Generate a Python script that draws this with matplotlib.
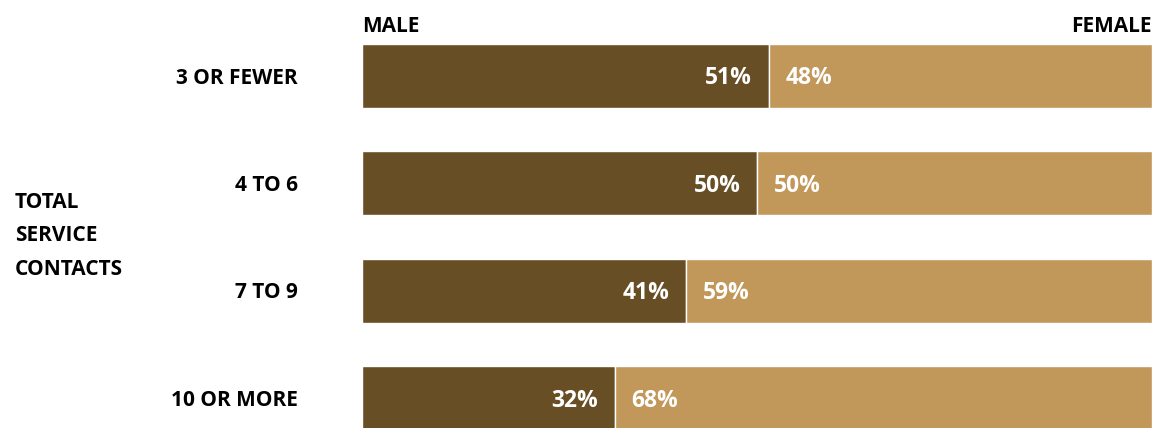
import matplotlib
matplotlib.use("Agg")
import matplotlib.pyplot as plt
import numpy as np

categories = ["3 OR FEWER", "4 TO 6", "7 TO 9", "10 OR MORE"]
male = [51, 50, 41, 32]
female = [48, 50, 59, 68]

MALE_COLOR = "#684e25"
FEMALE_COLOR = "#c2975a"

plt.rcParams["font.family"] = ["Open Sans", "DejaVu Sans"]

W, H = 1157, 428
fig = plt.figure(figsize=(W / 100, H / 100), dpi=100)
ax = fig.add_axes([362 / W, 0, (1152 - 362) / W, 1])

# each row is drawn as a 100% stacked bar
male_arr = np.array(male, dtype=float)
female_arr = np.array(female, dtype=float)
total = male_arr + female_arr
male_share = male_arr / total * 100
female_share = female_arr / total * 100

y = np.arange(len(categories))
height = 64 / 107.5
ax.barh(y, male_share, height=height, color=MALE_COLOR, edgecolor="white", linewidth=1.0)
ax.barh(y, female_share, left=male_share, height=height, color=FEMALE_COLOR,
        edgecolor="white", linewidth=1.0)

ax.set_xlim(0, 100)
ax.set_ylim((H - 75.5) / 107.5, -75.5 / 107.5)

for i in range(len(categories)):
    ax.annotate(f"{male[i]}%", (male_share[i], y[i]), xytext=(-12, -2), textcoords="offset points",
                ha="right", va="center", color="white", fontsize=16.5, fontweight="bold")
    ax.annotate(f"{female[i]}%", (male_share[i], y[i]), xytext=(12, -2), textcoords="offset points",
                ha="left", va="center", color="white", fontsize=16.5, fontweight="bold")

ax.set_yticks(y)
ax.set_yticklabels(categories, fontsize=15, fontweight="bold")
ax.tick_params(axis="y", length=0, pad=46)
ax.set_xticks([])
for s in ax.spines.values():
    s.set_visible(False)

ax.text(0, 1 - 26 / H, "MALE", transform=ax.transAxes, ha="left", va="center",
        fontsize=15, fontweight="bold")
ax.text(1, 1 - 26 / H, "FEMALE", transform=ax.transAxes, ha="right", va="center",
        fontsize=15, fontweight="bold")

fig.text(15 / W, 1 - 236 / H, "TOTAL\nSERVICE\nCONTACTS", ha="left", va="center",
         fontsize=15, fontweight="bold", linespacing=1.78)

fig.savefig("out.png", dpi=100)
